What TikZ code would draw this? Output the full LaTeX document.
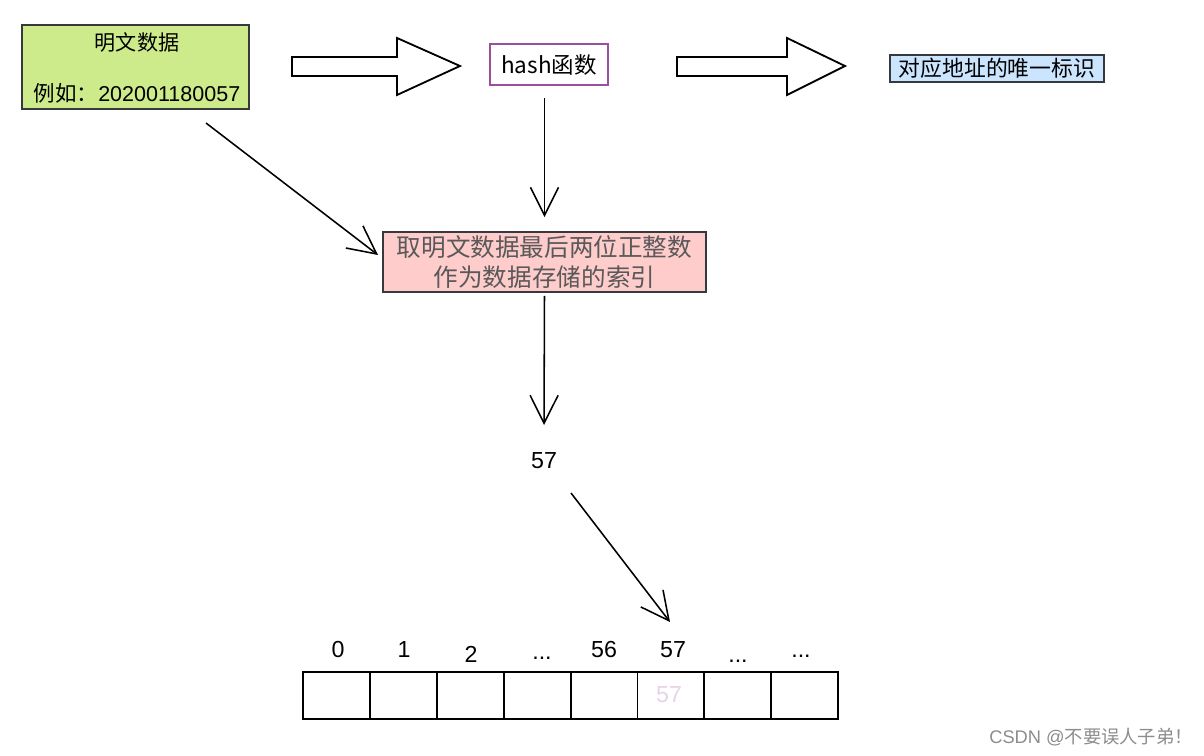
\documentclass[tikz,border=0pt]{standalone}
\usepackage{fontspec}
\setmainfont{Liberation Sans}
\newfontfamily\cjk{Noto Sans CJK SC}
\usetikzlibrary{arrows.meta}
\definecolor{boxline}{HTML}{36393D}
\definecolor{greenfill}{HTML}{CDEB8B}
\definecolor{bluefill}{HTML}{CCE5FF}
\definecolor{pinkfill}{HTML}{FFCCCC}
\definecolor{hashline}{HTML}{9C4F9C}
\tikzset{
  box/.style={draw=boxline,line width=1.3pt,inner sep=0pt,align=center},
  flow/.style={line width=1.1pt,-{Straight Barb[length=7mm,width=7mm,line width=1.1pt]}},
  bigarrow/.style={draw,line width=1.3pt,fill=white},
  idx/.style={anchor=base,font=\fontsize{16.5}{18}\selectfont},
  cell/.style={draw,line width=1.3pt,minimum width=66.9*0.025cm,minimum height=47*0.025cm,inner sep=0pt}
}
\begin{document}
\begin{tikzpicture}[x=0.025cm,y=-0.025cm]
    \useasboundingbox (0,0) rectangle (1204,756);
    % top row
    \node[box,fill=greenfill,minimum width=227*0.025cm,minimum height=84*0.025cm] (plain) at (135.5,67) {};
    \node[font=\cjk\fontsize{15}{18}\selectfont] (plaintitle) at (137,42) {明文数据};
    \node[font=\cjk\fontsize{15.3}{18}\selectfont] (plainex) at (137,93) {例如：\fontspec{Liberation Sans}202001180057};
    \node[box,draw=hashline,line width=1.5pt,minimum width=118*0.025cm,minimum height=41*0.025cm,font=\cjk\fontsize{16}{18}\selectfont] (hash) at (549,64.5) {hash函数};
    \node[box,fill=bluefill,minimum width=214*0.025cm,minimum height=27*0.025cm,font=\cjk\fontsize{15.5}{18}\selectfont] (addr) at (997,68.5) {对应地址的唯一标识};
    \draw[bigarrow] (292,57) -- (397,57) -- (397,38) -- (460,66) -- (397,95) -- (397,76) -- (292,76) -- cycle;
    \draw[bigarrow] (677,57) -- (787,57) -- (787,38) -- (845,66) -- (787,95) -- (787,76) -- (677,76) -- cycle;
    % middle
    \node[box,fill=pinkfill,minimum width=323*0.025cm,minimum height=60*0.025cm,font=\cjk\fontsize{17.5}{21.5}\selectfont,text=black!65] (rule) at (544.5,262) {取明文数据最后两位正整数\\作为数据存储的索引};
    \node[font=\fontsize{16.5}{18}\selectfont] (key) at (544,461) {57};
    \coordinate (plainout) at (206,123);
    \coordinate (rulein) at (378,255);
    \coordinate (keyout) at (571,493);
    \coordinate (slotin) at (670,622);
    \draw[flow] (plainout) -- (rulein);
    \draw[flow,shorten <=12*0.025cm,shorten >=14*0.025cm] (hash.south -| rule.north) -- (rule.north);
    \draw[flow,shorten <=3*0.025cm] (rule.south) -- (544,425);
    \draw[flow] (keyout) -- (slotin);
    % array
    \foreach \i in {0,...,7} {
        \node[cell] (c\i) at ({303+33.45+66.9*\i},695.5) {};
    }
    \node[font=\fontsize{16.5}{18}\selectfont,text=hashline!25] (val) at (669,695) {57};
    \node[idx] (l0) at (338,657) {0};
    \node[idx] (l1) at (404,657) {1};
    \node[idx] (l2) at (471,662) {2};
    \node[idx] (l3) at (542,659) {...};
    \node[idx] (l4) at (604,657) {56};
    \node[idx] (l5) at (673,657) {57};
    \node[idx] (l6) at (738,662) {...};
    \node[idx] (l7) at (801,657) {...};
    \node[font=\cjk\fontsize{13}{15}\selectfont,text=black!45] (mark) at (1091,737) {\fontspec{Liberation Sans}CSDN @\cjk 不要误人子弟！};
\end{tikzpicture}
\end{document}
